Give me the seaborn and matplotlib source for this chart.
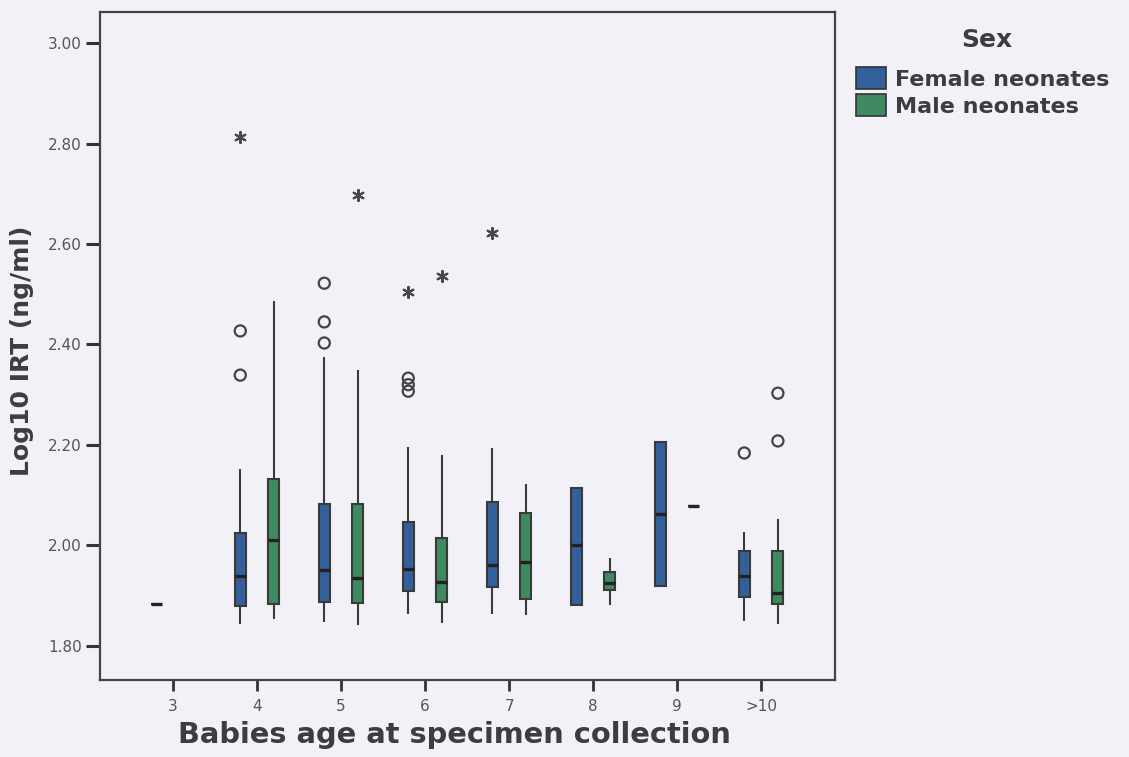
import numpy as np
import pandas as pd
import matplotlib
matplotlib.use("Agg")
import matplotlib.pyplot as plt
import seaborn as sns
from matplotlib.patches import Patch

# ---------------- data ----------------
ages = ["3", "4", "5", "6", "7", "8", "9", ">10"]
sexes = ["Female neonates", "Male neonates"]

box_age = ["3", "4", "5", "6", "7", "8", "9", ">10",
           "4", "5", "6", "7", "8", "9", ">10"]
box_sex = ["Female neonates"] * 8 + ["Male neonates"] * 7
whisker_low = [1.884, 1.844, 1.848, 1.864, 1.864, 1.882, 1.919, 1.850,
               1.854, 1.842, 1.846, 1.862, 1.882, 2.079, 1.844]
q1 = [1.884, 1.880, 1.888, 1.909, 1.917, 1.882, 1.919, 1.898,
      1.884, 1.886, 1.888, 1.894, 1.911, 2.079, 1.884]
median = [1.884, 1.939, 1.951, 1.953, 1.961, 2.000, 2.063, 1.939,
          2.011, 1.935, 1.927, 1.967, 1.925, 2.079, 1.905]
q3 = [1.884, 2.025, 2.083, 2.047, 2.087, 2.114, 2.206, 1.989,
      2.132, 2.083, 2.015, 2.065, 1.947, 2.079, 1.989]
whisker_high = [1.884, 2.152, 2.375, 2.196, 2.194, 2.114, 2.206, 2.027,
                2.487, 2.349, 2.180, 2.122, 1.975, 2.079, 2.053]

outlier_age = ["4", "4", "5", "5", "5", "6", "6", "6", ">10", ">10", ">10"]
outlier_sex = ["Female neonates"] * 9 + ["Male neonates"] * 2
outlier_val = [2.427, 2.339, 2.522, 2.445, 2.403, 2.333, 2.320, 2.307,
               2.184, 2.303, 2.208]

extreme_age = ["4", "5", "6", "6", "7"]
extreme_sex = ["Female neonates", "Male neonates", "Female neonates",
               "Male neonates", "Female neonates"]
extreme_val = [2.813, 2.698, 2.504, 2.536, 2.622]

yticks = [1.80, 2.00, 2.20, 2.40, 2.60, 2.80, 3.00]

# ---------------- long-form frames ----------------
rows = []
for a, s, lo, a1, m, a3, hi in zip(box_age, box_sex, whisker_low, q1, median, q3, whisker_high):
    for v in (lo, a1, m, a3, hi):
        rows.append((a, s, v))
box_df = pd.DataFrame(rows, columns=["age", "sex", "value"])
out_df = pd.DataFrame({"age": outlier_age, "sex": outlier_sex, "value": outlier_val})
ext_df = pd.DataFrame({"age": extreme_age, "sex": extreme_sex, "value": extreme_val})

# ---------------- style ----------------
bg = "#f1f1f7"
blue = "#33609c"
green = "#3f8a60"
dark = "#3a3a3a"
textc = "#3d3d3d"
tickc = "#555555"

sns.set_theme(style="white")
plt.rcParams["font.family"] = ["DejaVu Sans"]

fig = plt.figure(figsize=(11.29, 7.57), dpi=100, facecolor=bg)
ax = fig.add_axes([100 / 1129, 1 - 680 / 757, 735 / 1129, 668 / 757])
ax.set_facecolor(bg)

sns.boxplot(data=box_df, x="age", y="value", hue="sex", order=ages,
            hue_order=sexes, palette=[blue, green], saturation=1,
            width=0.8, gap=0.67, dodge=True, whis=(0, 100),
            showcaps=False, showfliers=False, linewidth=1.5,
            linecolor=dark, medianprops=dict(color="#222222", linewidth=2.4),
            legend=False, ax=ax)

n0 = len(ax.collections)
sns.stripplot(data=out_df, x="age", y="value", hue="sex", order=ages,
              hue_order=sexes, dodge=True, jitter=False, marker="o",
              size=8, palette=[dark, dark], legend=False, ax=ax)
for c in ax.collections[n0:]:
    c.set_facecolor("none")
    c.set_edgecolor("#444444")
    c.set_linewidth(1.6)

n1 = len(ax.collections)
sns.stripplot(data=ext_df, x="age", y="value", hue="sex", order=ages,
              hue_order=sexes, dodge=True, jitter=False, marker=(6, 2, 0),
              size=8, palette=[dark, dark], legend=False, ax=ax)
for c in ax.collections[n1:]:
    c.set_edgecolor("#484848")
    c.set_linewidth(1.5)

ax.set_xlim(-0.87, 7.88)
ax.set_ylim(1.732, 3.062)
ax.set_yticks(yticks)
ax.set_yticklabels([f"{t:.2f}" for t in yticks])

for sp in ax.spines.values():
    sp.set_visible(True)
    sp.set_color("#444444")
    sp.set_linewidth(1.6)

ax.tick_params(axis="y", direction="out", length=10, width=2.2, color="#333333",
               labelcolor=tickc, labelsize=11, pad=3, left=True)
ax.tick_params(axis="x", direction="out", length=8, width=2.0, color="#333333",
               labelcolor=tickc, labelsize=11, pad=6, bottom=True)

ax.set_ylabel("Log10 IRT (ng/ml)", fontsize=18, fontweight="bold", color=textc)
ax.set_xlabel("Babies age at specimen collection", fontsize=20.8, fontweight="bold", color=textc)
ax.yaxis.set_label_coords(-0.09, 0.4925)
ax.xaxis.set_label_coords(0.4816, -0.062)

fig.text(987 / 1129, 1 - 40 / 757, "Sex", ha="center", va="center",
         fontsize=18, fontweight="bold", color=textc)

handles = [Patch(facecolor=blue, edgecolor="#333333", linewidth=1.2),
           Patch(facecolor=green, edgecolor="#333333", linewidth=1.2)]
leg = fig.legend(handles=handles, labels=sexes, loc="upper left",
                 bbox_to_anchor=(856 / 1129, 1 - 67 / 757), frameon=False,
                 prop={"weight": "bold", "size": 16}, handlelength=1.35,
                 handleheight=1.15, handletextpad=0.4, labelspacing=0.2,
                 borderaxespad=0, borderpad=0)
for t in leg.get_texts():
    t.set_color(textc)

fig.savefig("out.png", dpi=100, facecolor=bg)
